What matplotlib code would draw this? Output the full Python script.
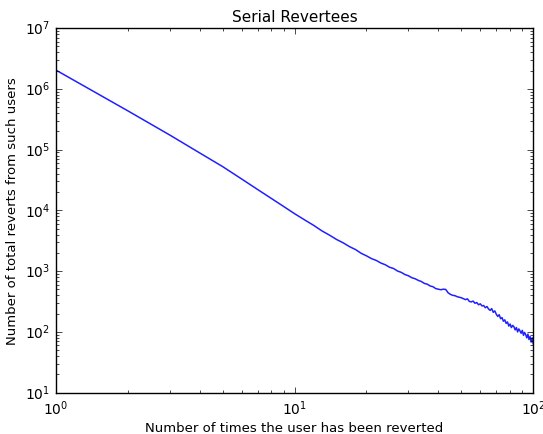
import matplotlib
matplotlib.use('Agg')
import matplotlib.pyplot as plt

# Data ###############################################
times_reverted = list(range(1, 101))
total_reverts = [
    2040000, 436000, 174000, 88500, 52500, 32900, 22100, 15700, 11600, 8830,
    7010, 5700, 4620, 3920, 3320, 2920, 2530, 2270, 1970, 1790,
    1610, 1500, 1360, 1275, 1160, 1105, 1005, 955, 880, 840,
    780, 750, 705, 675, 628, 610, 570, 555, 518, 505,
    495, 505, 500, 440, 415, 400, 395, 380, 372, 365,
    352, 340, 350, 318, 312, 322, 296, 305, 280, 290,
    268, 272, 250, 262, 238, 226, 242, 210, 222, 196,
    180, 192, 165, 172, 150, 158, 138, 146, 125, 135,
    118, 128, 122, 108, 118, 100, 112, 104, 95, 106,
    88, 98, 90, 80, 92, 75, 84, 68, 80, 64,
]
######################################################

plt.style.use('classic')
plt.rcParams['font.family'] = ['DejaVu Sans']

fig = plt.figure(figsize=(5.43, 4.35), dpi=100, facecolor='white')
ax = fig.add_axes([0.103, 0.095, 0.879, 0.838])

ax.loglog(times_reverted, total_reverts, color='#2020ff', linewidth=1.1)
ax.set_xlim(1, 100)
ax.set_ylim(10, 1e7)

ax.set_title('Serial Revertees', fontsize=11)
ax.set_xlabel('Number of times the user has been reverted', fontsize=9.5, labelpad=3)
ax.set_ylabel('Number of total reverts from such users', fontsize=9.5, labelpad=4)
ax.tick_params(labelsize=10)

fig.savefig('out.png', dpi=100, facecolor='white')
